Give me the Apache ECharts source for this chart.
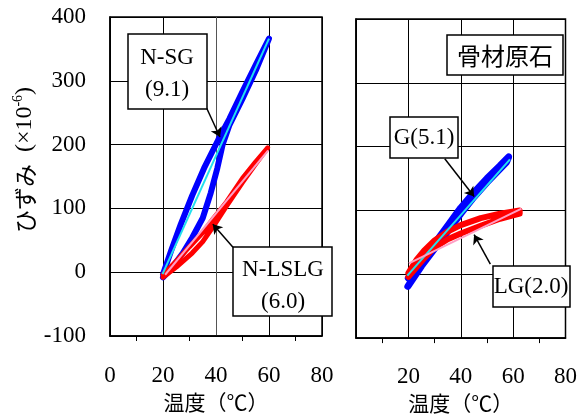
<!DOCTYPE html>
<html>
<head>
<meta charset="utf-8">
<script src="https://cdn.jsdelivr.net/npm/echarts@6/dist/echarts.min.js"></script>
<style>
html,body{margin:0;padding:0;background:#fff;}
#chart{width:580px;height:419px;}
</style>
</head>
<body>
<div id="chart"></div>
<script>
// ---- data ----
const xTicks = [0, 20, 40, 60, 80];
const yTicks = [-100, 0, 100, 200, 300, 400];

// Left panel: N-SG hysteresis loop (temperature, strain)
const nsgLoop = [
  [20,-3],[23,33],[26.7,75],[31,120],[35.5,163],[40.9,208],[45,240],[50,283],[55,325],[60,366],
  [59,356],[55,316],[50,272],[45,230],[42.5,200],[40.5,163],[38,124],[35,85],[31,54],[27.5,30],[23,5],[20,-8]
];
const nsgFit = [[19.8,-3],[60,366]];

// Left panel: N-LSLG hysteresis loop
const nlslgLoop = [
  [20,-8],[25,8],[31,30],[35,48],[39,72],[44,104],[50,141],[55,170],[59.5,195],
  [55,173],[50,147],[44,110],[39,84],[35,62],[30,40],[25,17],[20,-4]
];
const nlslgFit = [[20.8,-4],[59.7,191]];

// Right panel: G hysteresis loop
const gLoop = [
  [20,-6],[25,22],[30,48],[35,76],[40,104],[45,128],[50,150],[55,170],[58.3,184],
  [57.5,176],[50,144],[45,121],[40,95],[35,67],[30,40],[25,13],[19.8,-19]
];
const gFit = [[19.6,-2],[58.8,180]];

// Right panel: LG hysteresis loop
const lgLoop = [
  [20,2],[23,22],[26,37],[30,53],[35,67],[40,77],[47.6,88],[55,95],[62.5,100],
  [62.5,95],[55,87],[47.6,76],[40,64],[35,55],[30,42],[26,25],[20,-4]
];
const lgFit = [[20.2,17],[63.2,103]];

// annotation arrows (data coords: from box to curve)
const nsgArrow = [[36.5,257],[41.5,212]];
const nlslgArrow = [[46.4,39],[38.8,75]];
const gArrow = [[33.9,181],[45.1,122]];
const lgArrow = [[51.3,16],[45.1,62]];

// ---- chart ----
const serif = '"Liberation Serif","Times New Roman",serif';
const jp = '"Noto Sans CJK JP","Noto Sans CJK SC",sans-serif';

function xAxisCfg(gridIndex, showZero, labelMargin, nameGap, grayIdx) {
  return {
    type: 'value', gridIndex: gridIndex, min: xTicks[0], max: xTicks[xTicks.length-1], interval: 20,
    name: '温度（℃）', nameLocation: 'middle', nameGap: nameGap,
    nameTextStyle: {fontFamily: jp, fontSize: 21, color: '#000'},
    axisLine: {show: true, onZero: false, lineStyle: {color: '#000', width: 1.5}},
    axisTick: {show: false},
    minorTick: {show: true, splitNumber: 2, length: 5, lineStyle: {color: '#000', width: 1}},
    axisLabel: {
      show: true, margin: labelMargin, fontFamily: serif, fontSize: 23, color: '#000',
      formatter: function (v) { return (!showZero && v === 0) ? '' : String(v); }
    },
    splitLine: {show: true, lineStyle: {color: grayIdx ? ['#000','#000','#555','#000','#000'] : '#000', width: 1}}
  };
}
function yAxisCfg(gridIndex, showLabels) {
  return {
    type: 'value', gridIndex: gridIndex, min: yTicks[0], max: yTicks[yTicks.length-1], interval: 100,
    axisLine: {show: true, onZero: false, lineStyle: {color: '#000', width: 1.5}},
    axisTick: {show: false},
    axisLabel: {show: showLabels, margin: 24, fontFamily: serif, fontSize: 23, color: '#000'},
    splitLine: {show: true, lineStyle: {color: '#000', width: 1}}
  };
}
function loopSeries(data, color, width, xi, z) {
  return {type: 'line', xAxisIndex: xi, yAxisIndex: xi, data: data, showSymbol: false, symbol: 'none',
    z: z, silent: true,
    lineStyle: {color: color, width: width, cap: 'round', join: 'round'}};
}
function arrowLine(arrow) {
  return [{coord: arrow[0], symbol: 'none'}, {coord: arrow[1], symbol: 'arrow'}];
}

const chart = echarts.init(document.getElementById('chart'), null, {renderer: 'canvas'});

const option = {
  animation: false,
  backgroundColor: '#fff',
  grid: [
    {left: 110, top: 17, width: 212, height: 319, show: true, borderColor: '#000', borderWidth: 1.5, backgroundColor: 'transparent'},
    {left: 356, top: 19, width: 214, height: 321, show: true, borderColor: '#000', borderWidth: 1.5, backgroundColor: 'transparent'}
  ],
  xAxis: [xAxisCfg(0, true, 28, 55, true), xAxisCfg(1, false, 27, 54, false)],
  yAxis: [yAxisCfg(0, true), yAxisCfg(1, false)],
  series: [
    loopSeries(nsgLoop, '#0000ff', 6, 0, 2),
    loopSeries(nlslgLoop, '#ff0000', 5, 0, 3),
    {type: 'line', xAxisIndex: 0, yAxisIndex: 0, data: nsgFit, showSymbol: false, symbol: 'none', z: 4,
      lineStyle: {color: '#22e0ee', width: 2},
      markLine: {silent: true, symbolSize: 9, label: {show: false},
        lineStyle: {color: '#000', width: 1.5, type: 'solid'},
        data: [arrowLine(nsgArrow), arrowLine(nlslgArrow)]}},
    {type: 'line', xAxisIndex: 0, yAxisIndex: 0, data: nlslgFit, showSymbol: false, symbol: 'none', z: 5,
      lineStyle: {color: '#ff9ec4', width: 2}},
    loopSeries(gLoop, '#0000ff', 7, 1, 2),
    loopSeries(lgLoop, '#ff0000', 6, 1, 3),
    {type: 'line', xAxisIndex: 1, yAxisIndex: 1, data: gFit, showSymbol: false, symbol: 'none', z: 4,
      lineStyle: {color: '#22e0ee', width: 2},
      markLine: {silent: true, symbolSize: 9, label: {show: false},
        lineStyle: {color: '#000', width: 1.5, type: 'solid'},
        data: [arrowLine(gArrow), arrowLine(lgArrow)]}},
    {type: 'line', xAxisIndex: 1, yAxisIndex: 1, data: lgFit, showSymbol: false, symbol: 'none', z: 5,
      lineStyle: {color: '#ff9ec4', width: 2}}
  ],
  graphic: [
    {type: 'text', x: 25, y: 160, rotation: Math.PI / 2, z: 10,
      style: {text: '{j|ひずみ}{n|  (×10}{s|-6}{n|)}', align: 'center', verticalAlign: 'middle', fill: '#000',
        rich: {
          j: {fontFamily: jp, fontSize: 23, fill: '#000'},
          n: {fontFamily: serif, fontSize: 24, fill: '#000'},
          s: {fontFamily: serif, fontSize: 14, fill: '#000', verticalAlign: 'top', padding: [0,0,13,0]}
        }}},
    // N-SG box
    {type: 'rect', z: 20, shape: {x: 128, y: 34, width: 79, height: 75}, style: {fill: '#fff', stroke: '#000', lineWidth: 1.5}},
    {type: 'text', z: 21, x: 167, y: 58, style: {text: 'N-SG', font: '23px ' + serif, fill: '#000', align: 'center', verticalAlign: 'middle'}},
    {type: 'text', z: 21, x: 167, y: 90, style: {text: '(9.1)', font: '23px ' + serif, fill: '#000', align: 'center', verticalAlign: 'middle'}},
    // N-LSLG box
    {type: 'rect', z: 20, shape: {x: 233, y: 247, width: 99, height: 69}, style: {fill: '#fff', stroke: '#000', lineWidth: 1.5}},
    {type: 'text', z: 21, x: 283, y: 270, style: {text: 'N-LSLG', font: '23px ' + serif, fill: '#000', align: 'center', verticalAlign: 'middle'}},
    {type: 'text', z: 21, x: 283, y: 302, style: {text: '(6.0)', font: '23px ' + serif, fill: '#000', align: 'center', verticalAlign: 'middle'}},
    // 骨材原石 box
    {type: 'rect', z: 20, shape: {x: 447, y: 35, width: 116, height: 40}, style: {fill: '#fff', stroke: '#000', lineWidth: 1.5}},
    {type: 'text', z: 21, x: 505, y: 56, style: {text: '骨材原石', font: '24px ' + jp, fill: '#000', align: 'center', verticalAlign: 'middle'}},
    // G(5.1) box
    {type: 'rect', z: 20, shape: {x: 390, y: 117, width: 68, height: 41}, style: {fill: '#fff', stroke: '#000', lineWidth: 1.5}},
    {type: 'text', z: 21, x: 424, y: 138, style: {text: 'G(5.1)', font: '23px ' + serif, fill: '#000', align: 'center', verticalAlign: 'middle'}},
    // LG(2.0) box
    {type: 'rect', z: 20, shape: {x: 493, y: 266, width: 77, height: 41}, style: {fill: '#fff', stroke: '#000', lineWidth: 1.5}},
    {type: 'text', z: 21, x: 531, y: 287, style: {text: 'LG(2.0)', font: '23px ' + serif, fill: '#000', align: 'center', verticalAlign: 'middle'}}
  ]
};
chart.setOption(option);
</script>
</body>
</html>
